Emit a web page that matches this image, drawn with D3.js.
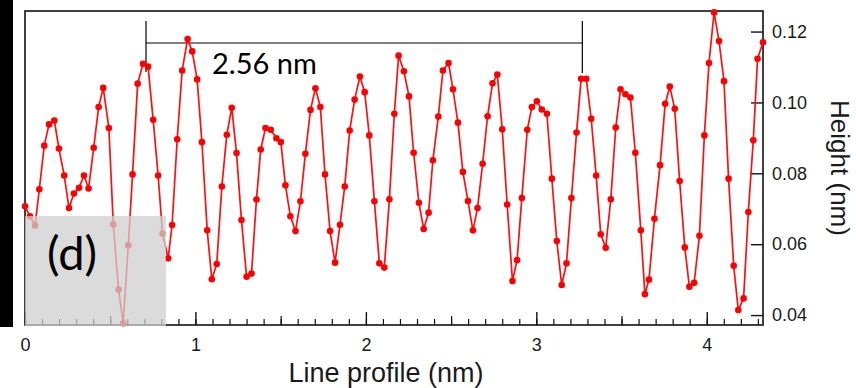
<!DOCTYPE html>
<html>
<head>
<meta charset="utf-8">
<script src="https://cdn.jsdelivr.net/npm/d3@7/dist/d3.min.js"></script>
<style>
  html, body { margin: 0; padding: 0; background: #fff; }
  svg { display: block; }
</style>
</head>
<body>
<svg id="chart" width="856" height="388"></svg>
<script>
// Line profile positions (nm)
const profileX = [
  0.000, 0.029, 0.059, 0.084, 0.113, 0.141, 0.172, 0.199, 0.230, 0.258,
  0.287, 0.317, 0.346, 0.373, 0.403, 0.432, 0.459, 0.492, 0.518, 0.549,
  0.576, 0.606, 0.631, 0.661, 0.692, 0.722, 0.752, 0.781, 0.807, 0.840,
  0.863, 0.893, 0.922, 0.954, 0.981, 1.010, 1.038, 1.069, 1.096, 1.125,
  1.155, 1.184, 1.213, 1.241, 1.270, 1.300, 1.329, 1.358, 1.383, 1.411,
  1.442, 1.475, 1.501, 1.528, 1.557, 1.587, 1.616, 1.645, 1.675, 1.704,
  1.733, 1.760, 1.790, 1.819, 1.848, 1.876, 1.905, 1.934, 1.965, 1.993,
  2.020, 2.050, 2.079, 2.108, 2.138, 2.167, 2.192, 2.223, 2.253, 2.280,
  2.311, 2.339, 2.368, 2.393, 2.425, 2.452, 2.485, 2.511, 2.540, 2.569,
  2.599, 2.628, 2.655, 2.685, 2.714, 2.743, 2.771, 2.800, 2.829, 2.860,
  2.887, 2.915, 2.947, 2.974, 3.003, 3.032, 3.062, 3.091, 3.120, 3.149,
  3.177, 3.206, 3.236, 3.263, 3.293, 3.322, 3.351, 3.378, 3.407, 3.437,
  3.466, 3.494, 3.523, 3.552, 3.581, 3.613, 3.637, 3.661, 3.693, 3.726,
  3.756, 3.783, 3.812, 3.841, 3.871, 3.898, 3.926, 3.957, 3.986, 4.013,
  4.043, 4.072, 4.101, 4.128, 4.158, 4.185, 4.216, 4.244, 4.273, 4.298,
  4.330
];

// Measured height along the profile (nm)
const profileHeight = [
  0.0707, 0.0679, 0.0653, 0.0755, 0.0878, 0.0938, 0.0949, 0.0870, 0.0794, 0.0702,
  0.0743, 0.0759, 0.0794, 0.0757, 0.0872, 0.0987, 0.1041, 0.0928, 0.0656, 0.0472,
  0.0377, 0.0597, 0.0797, 0.1053, 0.1109, 0.1101, 0.0951, 0.0794, 0.0630, 0.0560,
  0.0654, 0.0896, 0.1090, 0.1179, 0.1144, 0.1065, 0.0888, 0.0639, 0.0501, 0.0544,
  0.0763, 0.0909, 0.0985, 0.0857, 0.0668, 0.0508, 0.0517, 0.0726, 0.0867, 0.0928,
  0.0923, 0.0899, 0.0888, 0.0766, 0.0679, 0.0637, 0.0721, 0.0855, 0.0979, 0.1040,
  0.0987, 0.0797, 0.0637, 0.0548, 0.0655, 0.0763, 0.0921, 0.1008, 0.1073, 0.1029,
  0.0907, 0.0721, 0.0546, 0.0534, 0.0727, 0.0968, 0.1132, 0.1088, 0.1017, 0.0858,
  0.0717, 0.0643, 0.0689, 0.0837, 0.0960, 0.1090, 0.1111, 0.1037, 0.0943, 0.0804,
  0.0722, 0.0639, 0.0702, 0.0827, 0.0961, 0.1054, 0.1079, 0.0924, 0.0712, 0.0496,
  0.0555, 0.0730, 0.0923, 0.0987, 0.1003, 0.0980, 0.0968, 0.0785, 0.0609, 0.0485,
  0.0546, 0.0730, 0.0915, 0.1067, 0.1067, 0.0954, 0.0794, 0.0628, 0.0590, 0.0727,
  0.0929, 0.1037, 0.1023, 0.1014, 0.0858, 0.0639, 0.0459, 0.0500, 0.0672, 0.0823,
  0.0996, 0.1045, 0.0982, 0.0778, 0.0591, 0.0480, 0.0491, 0.0624, 0.0907, 0.1111,
  0.1254, 0.1173, 0.1060, 0.0785, 0.0539, 0.0414, 0.0447, 0.0691, 0.0893, 0.1123,
  0.1170
];

const xTickValues = [0, 1, 2, 3, 4];
const yTickValues = [0.04, 0.06, 0.08, 0.10, 0.12];

// Periodicity marker: start position and span (nm)
const spanStart = 0.71;
const spanLength = 2.56;
const spanLabel = "2.56 nm";
const panelLabel = "(d)";

const svg = d3.select("#chart");
const plotLeft = 25, plotRight = 763, plotTop = 11, plotBottom = 325;

const x = d3.scaleLinear().domain([0, 4.33]).range([plotLeft, plotRight]);
const y = d3.scaleLinear().domain([0.0372, 0.1258]).range([plotBottom, plotTop]);

// dark strip along the left edge
svg.append("rect").attr("x", 0).attr("y", 0).attr("width", 13).attr("height", 327).attr("fill", "#000");

const axisFont = "'Liberation Sans', Arial, sans-serif";

// minor x ticks (every 0.1 nm) and half ticks
svg.append("g")
  .attr("transform", `translate(0,${plotBottom})`)
  .call(d3.axisBottom(x).tickValues(d3.range(0, 4.331, 0.1)).tickSize(-6).tickFormat(""))
  .call(g => g.select(".domain").remove())
  .call(g => g.selectAll("line").attr("stroke", "#111").attr("stroke-width", 1.2));

svg.append("g")
  .attr("transform", `translate(0,${plotBottom})`)
  .call(d3.axisBottom(x).tickValues([0.5, 1.5, 2.5, 3.5]).tickSize(-9).tickFormat(""))
  .call(g => g.select(".domain").remove())
  .call(g => g.selectAll("line").attr("stroke", "#111").attr("stroke-width", 1.2));

// major x ticks with labels
svg.append("g")
  .attr("transform", `translate(0,${plotBottom})`)
  .call(d3.axisBottom(x).tickValues(xTickValues).tickSize(-13).tickPadding(13).tickFormat(d3.format("d")))
  .call(g => g.select(".domain").remove())
  .call(g => g.selectAll("line").attr("stroke", "#111").attr("stroke-width", 1.4))
  .call(g => g.selectAll("text").attr("font-family", axisFont).attr("font-size", 18).attr("fill", "#1a1a1a"));

// y axis on the right
svg.append("g")
  .attr("transform", `translate(${plotRight},0)`)
  .call(d3.axisRight(y).tickValues(yTickValues).tickSize(-12).tickPadding(9).tickFormat(d3.format(".2f")))
  .call(g => g.select(".domain").remove())
  .call(g => g.selectAll("line").attr("stroke", "#111").attr("stroke-width", 1.4))
  .call(g => g.selectAll("text").attr("font-family", axisFont).attr("font-size", 18).attr("fill", "#1a1a1a"));

// plot frame
svg.append("rect")
  .attr("x", plotLeft).attr("y", plotTop)
  .attr("width", plotRight - plotLeft).attr("height", plotBottom - plotTop)
  .attr("fill", "none").attr("stroke", "#111").attr("stroke-width", 1.6);

// axis titles
svg.append("text")
  .attr("x", 386).attr("y", 382)
  .attr("text-anchor", "middle")
  .attr("font-family", axisFont).attr("font-size", 27).attr("fill", "#1a1a1a")
  .text("Line profile (nm)");

svg.append("text")
  .attr("transform", "translate(840,168) rotate(90)")
  .attr("text-anchor", "middle").attr("dominant-baseline", "central")
  .attr("font-family", axisFont).attr("font-size", 26).attr("fill", "#1a1a1a")
  .text("Height (nm)");

// span bracket
const bx0 = x(spanStart), bx1 = x(spanStart + spanLength);
const bracket = svg.append("g").attr("stroke", "#000").attr("stroke-width", 1.2);
bracket.append("line").attr("x1", bx0).attr("x2", bx0).attr("y1", 21).attr("y2", 72);
bracket.append("line").attr("x1", bx1).attr("x2", bx1).attr("y1", 21).attr("y2", 73);
bracket.append("line").attr("x1", bx0).attr("x2", bx1).attr("y1", 43).attr("y2", 43);

svg.append("text")
  .attr("x", 212).attr("y", 74)
  .attr("font-family", "Lato, 'Open Sans', sans-serif").attr("font-size", 29).attr("fill", "#000")
  .text(spanLabel);

// profile line and markers
const pts = profileX.map((d, i) => [d, profileHeight[i]]);
svg.append("path")
  .datum(pts)
  .attr("fill", "none")
  .attr("stroke", "#ff1010")
  .attr("stroke-width", 1.7)
  .attr("stroke-linejoin", "round")
  .attr("d", d3.line().x(d => x(d[0])).y(d => y(d[1])));

svg.append("g")
  .selectAll("circle")
  .data(pts)
  .join("circle")
  .attr("cx", d => x(d[0]))
  .attr("cy", d => y(d[1]))
  .attr("r", 3.3)
  .attr("fill", "#f00");

// translucent panel-label box
svg.append("rect")
  .attr("x", plotLeft).attr("y", 216)
  .attr("width", 166 - plotLeft).attr("height", 110)
  .attr("fill", "#cfcfcf").attr("fill-opacity", 0.75);

svg.append("text")
  .attr("x", 47).attr("y", 270)
  .attr("font-family", "Lato, 'Open Sans', sans-serif").attr("font-size", 47).attr("fill", "#000")
  .text(panelLabel);
</script>
</body>
</html>
